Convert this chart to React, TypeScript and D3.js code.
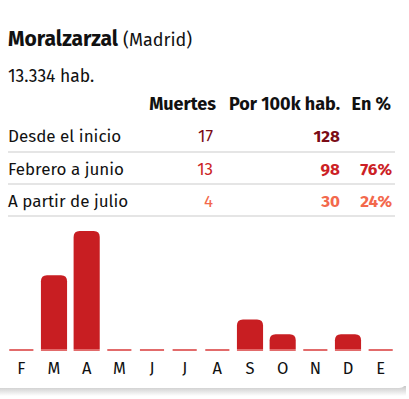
import React from 'react';
import * as d3 from 'd3';

const months = ['F', 'M', 'A', 'M', 'J', 'J', 'A', 'S', 'O', 'N', 'D', 'E'];
const deaths = [0, 5, 8, 0, 0, 0, 0, 2, 1, 0, 1, 0];

const rowLabels = ['Desde el inicio', 'Febrero a junio', 'A partir de julio'];
const rowDeaths = ['17', '13', '4'];
const rowPer100k = ['128', '98', '30'];
const rowPct = ['', '76%', '24%'];
const rowColors = ['#7b0c16', '#cc1f26', '#f3694c'];
const headers = ['Muertes', 'Por 100k hab.', 'En %'];

const W = 409;
const H = 399;
const font = "'Fira Sans', Roboto, 'Open Sans', sans-serif";

export default function App() {
  const x = d3.scaleBand<number>()
    .domain(d3.range(months.length))
    .range([5, 397])
    .paddingInner(0.2)
    .paddingOuter(0.1);

  const baseY = 350;
  const y = d3.scaleLinear()
    .domain([0, d3.max(deaths) || 1])
    .range([baseY, 232]);

  const barPath = (i: number) => {
    const x0 = x(i) || 0;
    const w = x.bandwidth();
    const top = y(deaths[i]);
    const r = Math.min(6, (baseY - top) / 1.5);
    return `M${x0},${baseY} L${x0},${top + r} Q${x0},${top} ${x0 + r},${top} L${x0 + w - r},${top} Q${x0 + w},${top} ${x0 + w},${top + r} L${x0 + w},${baseY} Z`;
  };

  const rowBase = [142, 175, 207];
  const sepY = [152, 184, 216];
  const colX = [213, 340, 392];
  const headX = [216, 340, 391];

  return (
    <div style={{ position: 'absolute', left: 0, top: 0 }}>
      <svg width={W} height={H} style={{ display: 'block', fontFamily: font }}>
        <defs>
          <linearGradient id="shadow" x1="0" y1="0" x2="0" y2="1">
            <stop offset="0" stopColor="#c8c8c8" />
            <stop offset="1" stopColor="#ffffff" />
          </linearGradient>
        </defs>
        <rect x={0} y={0} width={W} height={H} fill="#fff" />
        {/* card shadow */}
        <rect x={0} y={386} width={406} height={10} fill="url(#shadow)" />
        <rect x={-10} y={-10} width={417} height={398} rx={8} fill="#fff" />

        {/* title */}
        <text x={8} y={46} fontSize={21} fontWeight={700} fill="#111">
          Moralzarzal
          <tspan fontSize={18} fontWeight={400} dx={5}>(Madrid)</tspan>
        </text>
        <text x={8} y={82} fontSize={17.5} fill="#111">13.334 hab.</text>

        {/* table header */}
        {headers.map((h, i) => (
          <text key={h} x={headX[i]} y={110} fontSize={18} fontWeight={700} textAnchor="end" fill="#111">{h}</text>
        ))}

        {rowLabels.map((lab, i) => (
          <g key={lab}>
            <text x={8} y={rowBase[i]} fontSize={17} fill="#111">{lab}</text>
            <text x={colX[0]} y={rowBase[i]} fontSize={17} textAnchor="end" fill={rowColors[i]}>{rowDeaths[i]}</text>
            <text x={colX[1]} y={rowBase[i]} fontSize={17} fontWeight={700} textAnchor="end" fill={rowColors[i]}>{rowPer100k[i]}</text>
            <text x={colX[2]} y={rowBase[i]} fontSize={17} fontWeight={700} textAnchor="end" fill={rowColors[i]}>{rowPct[i]}</text>
            <line x1={8} x2={395} y1={sepY[i]} y2={sepY[i]} stroke="#dcdcdc" strokeWidth={1.5} />
          </g>
        ))}

        {/* bars */}
        {deaths.map((d, i) => (
          <g key={i}>
            <line x1={(x(i) || 0) + (d ? 0 : 1)} x2={(x(i) || 0) + x.bandwidth() - (d ? 0 : 1)} y1={baseY} y2={baseY} stroke="#e26b6b" strokeWidth={2} />
            {d > 0 && <path d={barPath(i)} fill="#c81e22" transform="translate(0,-1)" />}
          </g>
        ))}
        {months.map((m, i) => (
          <text key={i} x={(x(i) || 0) + x.bandwidth() / 2} y={374} fontSize={16.5} fontWeight={400} textAnchor="middle" fill="#111">{m}</text>
        ))}
      </svg>
    </div>
  );
}
